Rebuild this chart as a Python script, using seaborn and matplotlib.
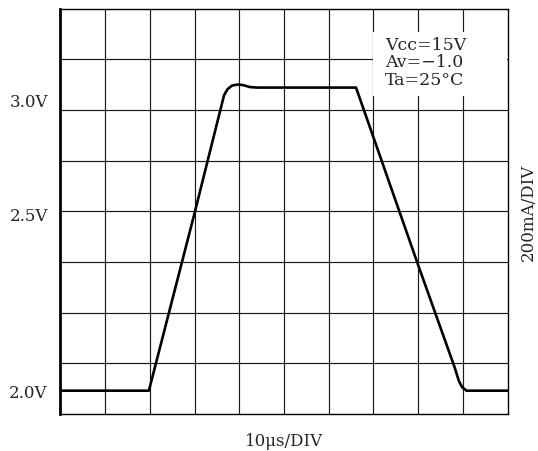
import matplotlib
matplotlib.use("Agg")
import matplotlib.pyplot as plt
import seaborn as sns
import pandas as pd
from matplotlib.patches import Rectangle

# Trace (in divisions): time axis 0..10 div, vertical 0..8 div
t_div = [0.0, 1.98, 3.0, 3.66, 3.74, 3.84, 3.96, 4.08, 4.24, 4.40,
         6.61, 7.99, 8.81, 8.91, 8.98, 9.08, 10.0]
v_div = [0.46, 0.46, 3.96, 6.29, 6.41, 6.48, 6.50, 6.49, 6.45, 6.44,
         6.44, 2.96, 0.93, 0.65, 0.53, 0.46, 0.46]

ytick_pos = [0.46, 3.96, 6.21]
ytick_labels = ["2.0V", "2.5V", "3.0V"]
cond_lines = ["Vcc=15V", "Av=\u22121.0", "Ta=25\u00b0C"]
xlabel = "10\u03bcs/DIV"
ylabel_right = "200mA/DIV"

sns.set_style("white")
plt.rcParams['font.family'] = ['DejaVu Serif']

fig = plt.figure(figsize=(5.38, 4.52), dpi=100)
ax = fig.add_axes([60.3/538, 1-415/452, (507.7-60.3)/538, (415-9.5)/452])

df = pd.DataFrame({"t": t_div, "v": v_div})
sns.lineplot(data=df, x="t", y="v", ax=ax, color="black", linewidth=1.9,
             zorder=5, sort=False)

ax.set_xlim(0, 10)
ax.set_ylim(0, 8)
for i in range(1, 10):
    ax.axvline(i, color="#1a1a1a", linewidth=0.85, zorder=1)
for j in range(1, 8):
    ax.axhline(j, color="#1a1a1a", linewidth=0.85, zorder=1)

ax.add_patch(Rectangle((6.99, 6.27), 3.0, 1.26, facecolor="white",
                       edgecolor="none", zorder=3))
for k, s in enumerate(cond_lines):
    ax.text(7.26, 7.29 - 0.345*k, s, fontsize=12.5, va="center", ha="left",
            zorder=6)

ax.set_xticks([])
ax.set_yticks(ytick_pos)
ax.set_yticklabels(ytick_labels, fontsize=12)
ax.tick_params(axis="y", length=0, pad=9)
ax.set_xlabel(xlabel, fontsize=12, labelpad=13)
ax.set_ylabel("")
ax.text(1.045, 0.5, ylabel_right, rotation=90, transform=ax.transAxes,
        fontsize=12, va="center", ha="center")

for side in ["top", "right", "bottom"]:
    ax.spines[side].set_visible(True)
    ax.spines[side].set_color("black")
    ax.spines[side].set_linewidth(1.0)
ax.spines["left"].set_visible(True)
ax.spines["left"].set_color("black")
ax.spines["left"].set_linewidth(2.0)

fig.savefig("out.png", dpi=100)
